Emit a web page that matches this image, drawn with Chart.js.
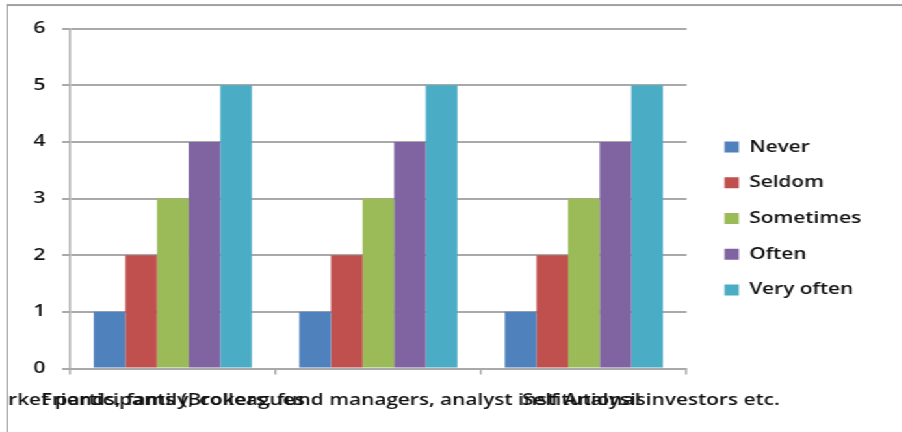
<!DOCTYPE html>
<html>
<head>
<meta charset="utf-8">
<script src="https://cdn.jsdelivr.net/npm/chart.js@4.4.1/dist/chart.umd.min.js"></script>
<style>
  html, body { margin: 0; padding: 0; background: #fff; overflow: hidden; }
  /* the whole sheet is drawn narrow and stretched sideways */
  #sheet {
    position: absolute; left: 0; top: 0;
    width: 694px; height: 432px;
    transform: scaleX(1.3); transform-origin: 0 0;
  }
  #frame {
    position: absolute; left: 5px; top: 4px; width: 720px; height: 460px;
    border-left: 1px solid #9a9a9a; border-top: 2px solid #a0a0a0;
  }
  #box {
    position: absolute; left: 6px; top: 6px; width: 688px; height: 426px;
  }
</style>
</head>
<body>
<div id="sheet">
  <div id="frame"></div>
  <div id="box"><canvas id="freq_chart" width="688" height="426"></canvas></div>
</div>
<script>
const categories = [
    "Friends, family, colleagues",
    "Market participants (Brokers, fund managers, analyst institutional investors etc.",
    "Self Analysis"
];
const seriesNames = ["Never", "Seldom", "Sometimes", "Often", "Very often"];
const never = [1, 1, 1];
const seldom = [2, 2, 2];
const sometimes = [3, 3, 3];
const often = [4, 4, 4];
const veryOften = [5, 5, 5];
const yTicks = [0, 1, 2, 3, 4, 5, 6];

const seriesColors = ["#4f81bd", "#c0504d", "#9bbb59", "#8064a2", "#4bacc6"];
const gridColor = "#a9a9a9";

// nudge legend so the swatches sit a bit off the plot
const legendNudge = {
    id: "legendNudge",
    afterLayout(chart) {
        const lg = chart.legend;
        lg.left += 9.5; lg.right += 9.5;
        lg.top -= 10; lg.bottom -= 10;
    }
};

Chart.defaults.font.family = "'Open Sans', sans-serif";
Chart.defaults.font.size = 16;
Chart.defaults.font.weight = "600";
Chart.defaults.color = "#111";

const ctx = document.getElementById("freq_chart").getContext("2d");
const values = [never, seldom, sometimes, often, veryOften];
const datasets = seriesNames.map((name, i) => ({
    label: name,
    data: values[i],
    backgroundColor: seriesColors[i],
    borderWidth: 0,
    categoryPercentage: 5 / 6.5,
    barPercentage: 1
}));

new Chart(ctx, {
    type: "bar",
    data: { labels: categories, datasets: datasets },
    plugins: [legendNudge],
    options: {
        responsive: false,
        animation: false,
        layout: { padding: { top: 19, left: 0, right: 31, bottom: 0 } },
        plugins: {
            legend: {
                position: "right",
                labels: { boxWidth: 11, boxHeight: 11, padding: 19.7, color: "#111" }
            },
            tooltip: { enabled: false }
        },
        scales: {
            x: {
                grid: { offset: true, drawOnChartArea: false, drawTicks: true, tickLength: 6, color: gridColor, lineWidth: 1.5 },
                border: { color: gridColor, width: 2 },
                ticks: { autoSkip: false, maxRotation: 0, minRotation: 0, padding: 16, color: "#111" },
                afterFit(s) { s.height = 63.5; s.paddingLeft = 0; s.paddingRight = 0; }
            },
            y: {
                min: 0, max: 6,
                grid: { color: gridColor, lineWidth: 2, tickLength: 6 },
                border: { color: gridColor, width: 1.5 },
                ticks: {
                    stepSize: 1, padding: 13, color: "#111",
                    callback: (v) => yTicks.includes(v) ? String(v) : ""
                },
                afterFit(s) { s.width = 47.85; }
            }
        }
    }
});
</script>
</body>
</html>
